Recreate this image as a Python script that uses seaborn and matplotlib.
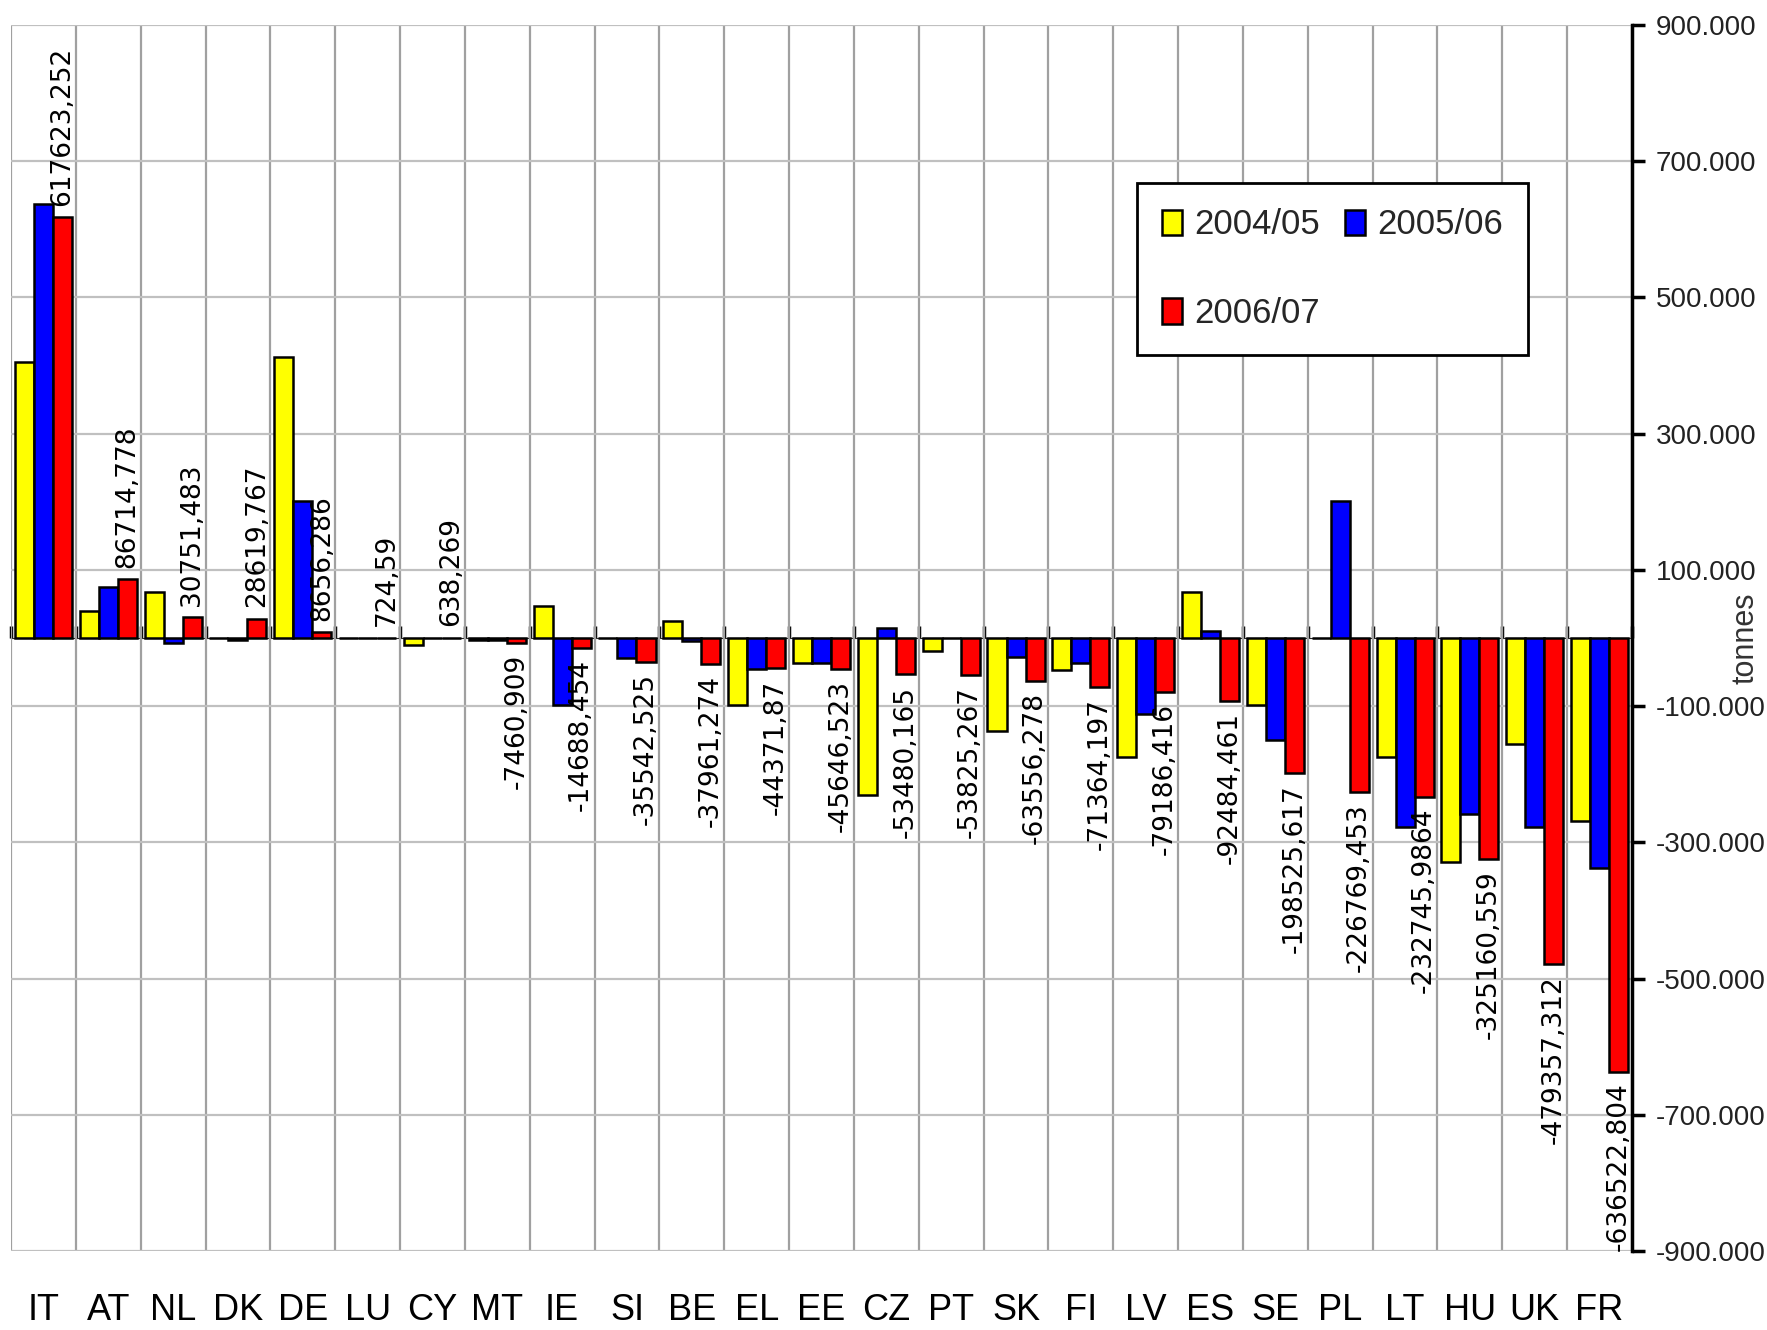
"""
Net trade balance by member state, three marketing years (tonnes).
Grouped bars with the 2006/07 values printed on the bars.
"""

import pandas as pd
import matplotlib
matplotlib.use("Agg")
import matplotlib.pyplot as plt
from matplotlib.patches import Patch
from matplotlib.ticker import FixedLocator, FuncFormatter
import seaborn as sns

countries = ["IT", "AT", "NL", "DK", "DE", "LU", "CY", "MT", "IE", "SI", "BE", "EL", "EE",
             "CZ", "PT", "SK", "FI", "LV", "ES", "SE", "PL", "LT", "HU", "UK", "FR"]
seasons = ["2004/05", "2005/06", "2006/07"]

y_2004_05 = [405000, 39000, 67000, 0, 413000, 0, -11000, -3000, 47000, 0, 25000, -98000, -37000,
             -230000, -19000, -136000, -47000, -175000, 67000, -98000, 0, -175000, -329000,
             -155000, -268000]
y_2005_06 = [637000, 75000, -8000, -3000, 201000, 0, 0, -3000, -98000, -29000, -4000, -46000,
             -37000, 15000, 0, -28000, -36000, -111000, 10000, -150000, 201000, -277000, -258000,
             -277000, -338000]
y_2006_07 = [617623.252, 86714.778, 30751.483, 28619.767, 8656.286, 724.59, 638.269, -7460.909,
             -14688.454, -35542.525, -37961.274, -44371.87, -45646.523, -53480.165, -53825.267,
             -63556.278, -71364.197, -79186.416, -92484.461, -198525.617, -226769.453,
             -232745.9864, -325160.559, -479357.312, -636522.804]

y_ticks = [-900000, -700000, -500000, -300000, -100000, 100000, 300000, 500000, 700000, 900000]
colors = ["#FFFF00", "#0000FF", "#FF0000"]

SANS = ["Liberation Sans", "DejaVu Sans"]


def build_frame():
    rows = []
    for season, values in zip(seasons, [y_2004_05, y_2005_06, y_2006_07]):
        for country, v in zip(countries, values):
            rows.append({"country": country, "season": season, "value": v})
    return pd.DataFrame(rows)


def main():
    sns.set_style("white")
    plt.rcParams["font.family"] = ["DejaVu Sans"]

    df = build_frame()
    fig = plt.figure(figsize=(17.67, 13.30), dpi=100)
    ax = fig.add_axes([11 / 1767, 1 - 1251 / 1330, 1621 / 1767, (1251 - 25) / 1330])

    sns.barplot(data=df, x="country", y="value", hue="season", order=countries,
                hue_order=seasons, palette=colors, saturation=1, width=0.88, errorbar=None,
                edgecolor="black", linewidth=1.8, legend=False, ax=ax, zorder=3)

    ymin, ymax = y_ticks[0], y_ticks[-1]
    ax.set_ylim(ymin, ymax)
    ax.set_xlim(-0.5, len(countries) - 0.5)

    # grid: horizontal at the value ticks, vertical between the countries
    ax.yaxis.set_major_locator(FixedLocator(y_ticks))
    ax.xaxis.set_minor_locator(FixedLocator([i - 0.5 for i in range(len(countries) + 1)]))
    ax.grid(axis="y", which="major", color="#C0C0C0", linewidth=1.6, zorder=0)
    ax.grid(axis="x", which="minor", color="#A0A0A0", linewidth=1.6, zorder=0)
    ax.grid(axis="x", which="major", visible=False)
    ax.set_axisbelow(True)

    for side in ["top", "bottom", "left"]:
        ax.spines[side].set_visible(False)
    ax.spines["right"].set_color("black")
    ax.spines["right"].set_linewidth(2.5)

    # value axis on the right
    ax.yaxis.tick_right()
    ax.yaxis.set_label_position("right")
    ax.yaxis.set_major_formatter(FuncFormatter(lambda v, _: f"{int(v / 1000)}.000"))
    ax.tick_params(axis="y", which="major", direction="out", length=9, width=2.5,
                   color="black", pad=8, labelsize=20, labelcolor="#222222")
    for lab in ax.get_yticklabels():
        lab.set_family(SANS)
    ax.set_ylabel("tonnes", fontsize=22, color="#333333", family=SANS)
    ax.yaxis.set_label_coords(1.061, 0.5)

    # country names below the plot
    ax.set_xlabel("")
    ax.tick_params(axis="x", which="both", length=0, pad=30, labelsize=26, labelcolor="black")
    for lab in ax.get_xticklabels():
        lab.set_family(SANS)

    # zero line with small ticks at the country boundaries
    zero_pos = (0 - ymin) / (ymax - ymin)
    zero_axis = ax.secondary_xaxis(zero_pos)
    zero_axis.set_xticks([i - 0.5 for i in range(len(countries) + 1)])
    zero_axis.set_xticklabels([])
    zero_axis.tick_params(direction="out", length=9, width=2.5, color="black")
    zero_axis.spines["bottom"].set_linewidth(3)
    zero_axis.spines["bottom"].set_color("black")

    # 2006/07 values printed on the red bars
    labels = [str(v).replace(".", ",") for v in y_2006_07]
    ax.bar_label(ax.containers[2], labels=labels, rotation=90, padding=8, fontsize=19,
                 color="black", family="DejaVu Sans")

    # legend, row-wise: 2004/05 2005/06 / 2006/07
    handles = [Patch(facecolor=c, edgecolor="black", linewidth=1.8) for c in colors]
    order = [0, 2, 1]
    leg = fig.legend([handles[i] for i in order], [seasons[i] for i in order], ncol=2,
                     loc="upper left", bbox_to_anchor=(1137 / 1767, 1 - 183 / 1330),
                     frameon=True, fancybox=False, shadow=False, framealpha=1,
                     edgecolor="black", prop={"family": SANS, "size": 25},
                     handlelength=0.58, handleheight=0.75, handletextpad=0.35,
                     columnspacing=0.7, labelspacing=1.6, borderpad=0.73,
                     borderaxespad=0)
    leg.get_frame().set_linewidth(2)

    fig.savefig("out.png", dpi=100, facecolor="white")
    plt.close(fig)


if __name__ == "__main__":
    main()
